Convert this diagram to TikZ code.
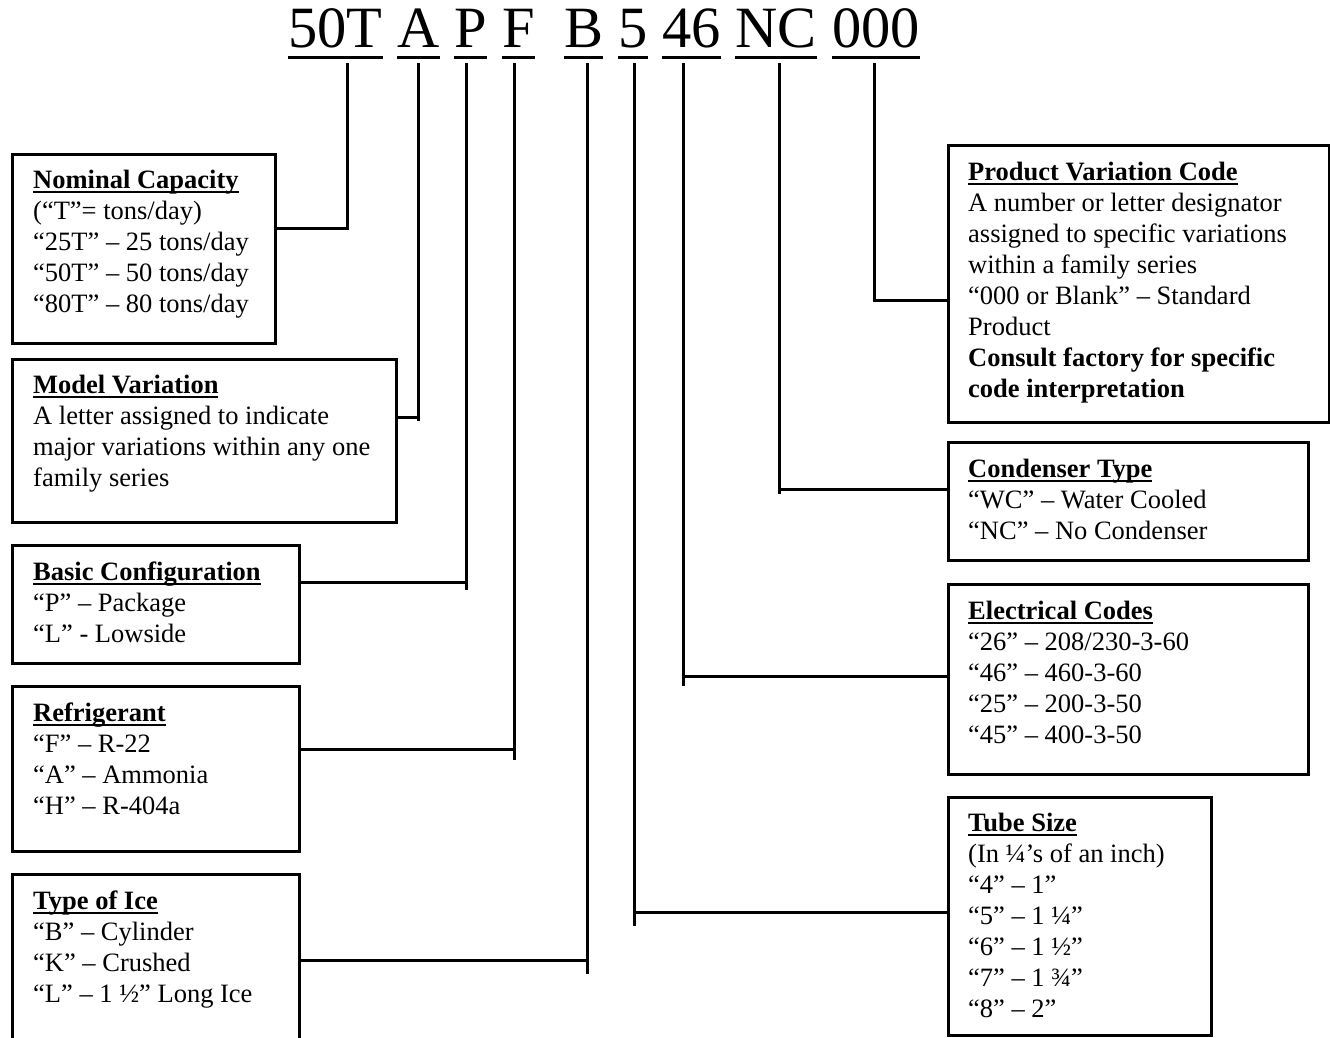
\documentclass[tikz,border=0pt]{standalone}
\usepackage{fontspec}
\setmainfont{Liberation Serif}
\usetikzlibrary{calc}
\newcommand{\hul}[1]{\setbox0\hbox{#1}\rlap{\rule[-4.5pt]{\wd0}{2pt}}\box0}
\newcommand{\fl}{\rule{0pt}{24pt}}
\begin{document}
\begin{tikzpicture}[x=1pt,y=-1pt,
  box/.style={draw, line width=3pt, inner sep=0pt, anchor=north west},
  txt/.style={anchor=north west, inner sep=0pt, align=left, font=\fontsize{26.5}{31}\selectfont},
  conn/.style={line width=3pt},
  code/.style={anchor=base west, inner sep=0pt, font=\fontsize{58.5}{60}\selectfont},
  uline/.style={line width=3pt}]
\useasboundingbox (0,0) rectangle (1330,1037);
\clip (0,0) rectangle (1330,1037);

% title code words
\node[code] (w50) at (288,47) {50T};
\node[code] (wA) at (397,47) {A};
\node[code] (wP) at (454,47) {P};
\node[code] (wF) at (502,47) {F};
\node[code] (wB) at (564,47) {B};
\node[code] (w5) at (618,47) {5};
\node[code] (w46) at (662,47) {46};
\node[code] (wNC) at (735,47) {NC};
\node[code] (w000) at (832,47) {000};
\foreach \w in {w50,wA,wP,wF,wB,w5,w46,wNC,w000}{
  \draw[uline] ([yshift=-10pt]\w.base west) -- ([yshift=-10pt]\w.base east);
}

% boxes
\node[box, minimum width=263pt, minimum height=189pt] (ncap) at (11,153) {};
\node[box, minimum width=384pt, minimum height=163pt] (mv) at (11,358) {};
\node[box, minimum width=287pt, minimum height=118pt] (bc) at (11,544) {};
\node[box, minimum width=287pt, minimum height=165pt] (ref) at (11,685) {};
\node[box, minimum width=287pt, minimum height=200pt] (ice) at (11,873) {};
\node[box, minimum width=381pt, minimum height=277pt] (pvc) at (947,144) {};
\node[box, minimum width=360pt, minimum height=118pt] (ct) at (947,441) {};
\node[box, minimum width=360pt, minimum height=190pt] (ec) at (947,583) {};
\node[box, minimum width=263pt, minimum height=238pt] (ts) at (947,796) {};

% texts
\node[txt] (ncapt) at (33,164) {\fl\hul{\textbf{Nominal Capacity}}\\(“T”= tons/day)\\“25T” – 25 tons/day\\“50T” – 50 tons/day\\“80T” – 80 tons/day};
\node[txt] (mvt) at (33,369) {\fl\hul{\textbf{Model Variation}}\\A letter assigned to indicate\\major variations within any one\\family series};
\node[txt] (bct) at (33,556) {\fl\hul{\textbf{Basic Configuration}}\\“P” – Package\\“L” - Lowside};
\node[txt] (reft) at (33,697) {\fl\hul{\textbf{Refrigerant}}\\“F” – R-22\\“A” – Ammonia\\“H” – R-404a};
\node[txt] (icet) at (33,885) {\fl\hul{\textbf{Type of Ice}}\\“B” – Cylinder\\“K” – Crushed\\“L” – 1 ½” Long Ice};
\node[txt] (pvct) at (968,156) {\fl\hul{\textbf{Product Variation Code}}\\A number or letter designator\\assigned to specific variations\\within a family series\\“000 or Blank” – Standard\\Product\\\textbf{Consult factory for specific}\\\textbf{code interpretation}};
\node[txt] (ctt) at (968,453) {\fl\hul{\textbf{Condenser Type}}\\“WC” – Water Cooled\\“NC” – No Condenser};
\node[txt] (ect) at (968,595) {\fl\hul{\textbf{Electrical Codes}}\\“26” – 208/230-3-60\\“46” – 460-3-60\\“25” – 200-3-50\\“45” – 400-3-50};
\node[txt] (tst) at (968,807) {\fl\hul{\textbf{Tube Size}}\\(In ¼’s of an inch)\\“4” – 1”\\“5” – 1 ¼”\\“6” – 1 ½”\\“7” – 1 ¾”\\“8” – 2”};

% connector coordinates
\coordinate (t50) at (347,63);  \coordinate (h50) at (347,228);
\coordinate (tA) at (418,63);   \coordinate (bA) at (418,421);  \coordinate (hA) at (418,417);
\coordinate (tP) at (466,63);   \coordinate (bP) at (466,590);  \coordinate (hP) at (466,582);
\coordinate (tF) at (514,63);   \coordinate (bF) at (514,760);  \coordinate (hF) at (514,749);
\coordinate (tB) at (587,63);   \coordinate (bB) at (587,974);  \coordinate (hB) at (587,960);
\coordinate (t5) at (634,63);   \coordinate (b5) at (634,926);  \coordinate (h5) at (634,912);
\coordinate (t46) at (683,63);  \coordinate (b46) at (683,686); \coordinate (h46) at (683,676);
\coordinate (tNC) at (779,63);  \coordinate (bNC) at (779,494); \coordinate (hNC) at (779,489);
\coordinate (t000) at (874,63); \coordinate (b000) at (874,302); \coordinate (h000) at (874,300);

% connectors
\draw[conn] (t50) -- (h50) -- (ncap.east |- h50);
\draw[conn] (tA) -- (bA);   \draw[conn] (mv.east |- hA) -- (hA);
\draw[conn] (tP) -- (bP);   \draw[conn] (bc.east |- hP) -- (hP);
\draw[conn] (tF) -- (bF);   \draw[conn] (ref.east |- hF) -- (hF);
\draw[conn] (tB) -- (bB);   \draw[conn] (ice.east |- hB) -- (hB);
\draw[conn] (t5) -- (b5);   \draw[conn] (h5) -- (ts.west |- h5);
\draw[conn] (t46) -- (b46); \draw[conn] (h46) -- (ec.west |- h46);
\draw[conn] (tNC) -- (bNC); \draw[conn] (hNC) -- (ct.west |- hNC);
\draw[conn] (t000) -- (b000); \draw[conn] (h000) -- (pvc.west |- h000);
\end{tikzpicture}
\end{document}
